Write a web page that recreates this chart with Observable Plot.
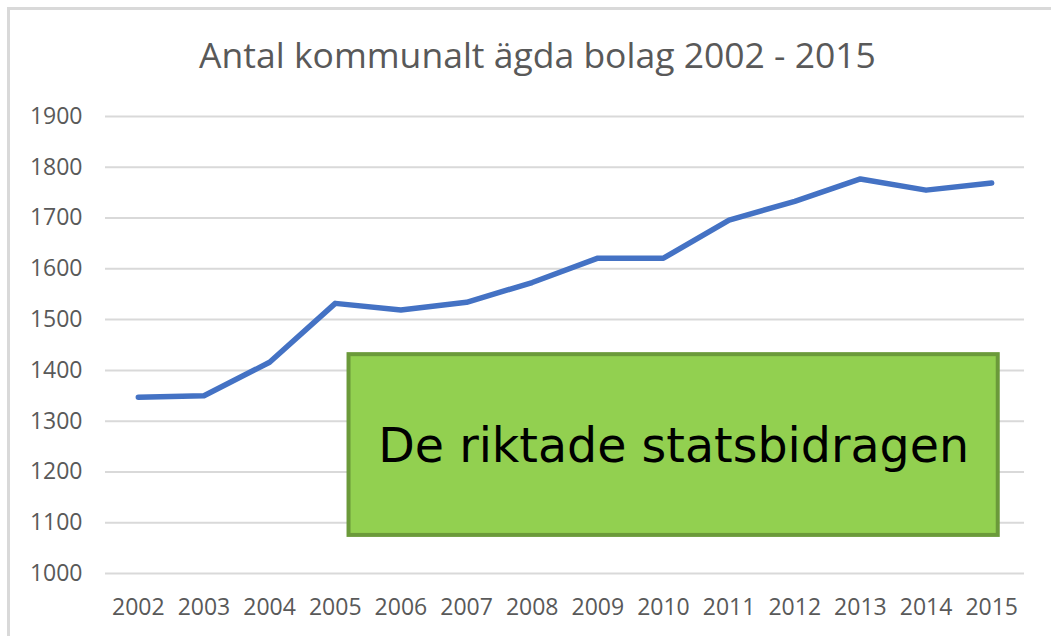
<!DOCTYPE html>
<html>
<head>
<meta charset="utf-8">
<script src="https://cdn.jsdelivr.net/npm/d3@7"></script>
<script src="https://cdn.jsdelivr.net/npm/@observablehq/plot@0.6"></script>
<style>
  html, body { margin: 0; padding: 0; background: #fff; overflow: hidden; }
  #wrap { position: relative; width: 1051px; height: 636px; overflow: hidden; }
  #frame { position: absolute; left: 7px; top: 7px; width: 1100px; height: 700px;
           border: 3px solid #d9d9d9; box-sizing: border-box; }
  #title { position: absolute; left: 12px; top: 0; width: 1051px; height: 90px;
           text-align: center; font-family: "Open Sans", sans-serif; font-size: 35.5px;
           line-height: 1; color: #595959; padding-top: 37px; box-sizing: border-box; white-space: nowrap; }
  #chart { position: absolute; left: 0; top: 90px; }
</style>
</head>
<body>
<div id="wrap">
  <div id="frame"></div>
  <div id="title">Antal kommunalt ägda bolag 2002 - 2015</div>
  <div id="chart"></div>
</div>
<script>
// Data
const years = [2002, 2003, 2004, 2005, 2006, 2007, 2008, 2009, 2010, 2011, 2012, 2013, 2014, 2015];
const companies = [1347, 1350, 1416, 1532, 1519, 1534, 1573, 1621, 1621, 1696, 1733, 1777, 1755, 1769];
const yTicks = [1000, 1100, 1200, 1300, 1400, 1500, 1600, 1700, 1800, 1900];
const noteText = ["De riktade statsbidragen"];
const noteFrom = [2005.21];
const noteTo = [2015.1];
const noteLow = [1075];
const noteHigh = [1431];

const rows = years.map((y, i) => ({year: y, value: companies[i]}));
const note = noteText.map((t, i) => ({
  text: t, x1: noteFrom[i], x2: noteTo[i], y1: noteLow[i], y2: noteHigh[i],
  xm: (noteFrom[i] + noteTo[i]) / 2, ym: (noteLow[i] + noteHigh[i]) / 2
}));

const chart = Plot.plot({
  width: 1051,
  height: 546,
  marginTop: 26,
  marginBottom: 63,
  marginLeft: 105,
  marginRight: 27,
  style: {fontFamily: "Open Sans, sans-serif", fontSize: "23px", color: "#595959", background: "transparent", overflow: "visible"},
  x: {type: "linear", domain: [years[0] - 0.5, years[years.length - 1] + 0.5]},
  y: {domain: [yTicks[0], yTicks[yTicks.length - 1]]},
  marks: [
    Plot.gridY(yTicks, {stroke: "#d9d9d9", strokeOpacity: 1, strokeWidth: 2}),
    Plot.axisY(yTicks, {tickSize: 0, tickPadding: 23, label: null, tickFormat: d => String(d), fill: "#595959"}),
    Plot.axisX(years, {tickSize: 0, tickPadding: 25, label: null, tickFormat: d => String(d), fill: "#595959"}),
    Plot.line(rows, {x: "year", y: "value", stroke: "#4472C4", strokeWidth: 5.5, strokeLinejoin: "round", strokeLinecap: "round"}),
    Plot.rect(note, {x1: "x1", x2: "x2", y1: "y1", y2: "y2", fill: "#92D050", stroke: "#6B9A3A", strokeWidth: 4}),
    Plot.text(note, {x: "xm", y: "ym", text: "text", fontFamily: "DejaVu Sans", fontSize: 47.5, fill: "#000", dy: 2})
  ]
});
document.getElementById("chart").appendChild(chart);
</script>
</body>
</html>
